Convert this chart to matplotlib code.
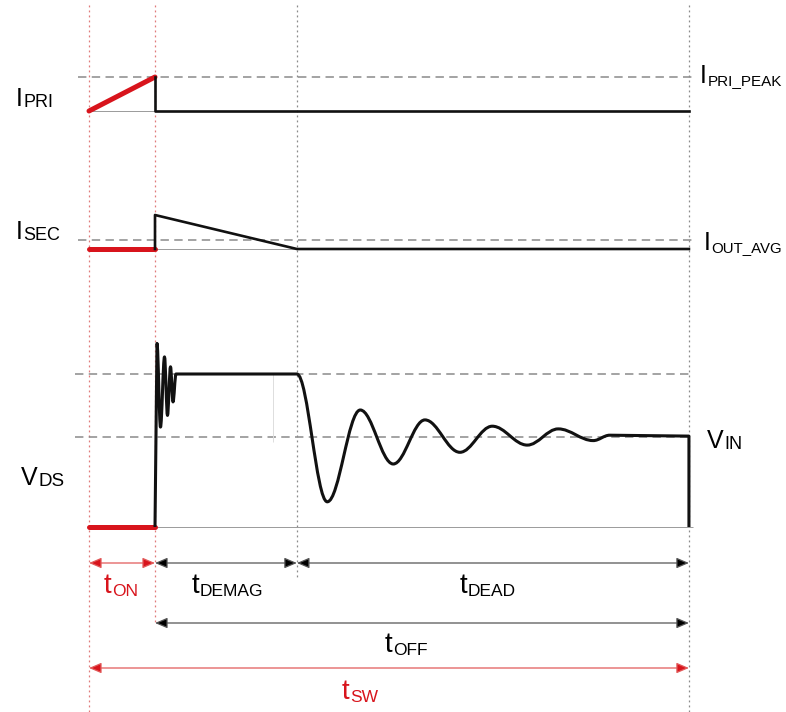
import matplotlib
matplotlib.use("Agg")
import matplotlib.pyplot as plt
from matplotlib.path import Path
from matplotlib.patches import PathPatch

plt.rcParams['font.family'] = ['Liberation Sans', 'DejaVu Sans']

# ---- timing (units of t_ON) ----
T_ON = 1.0
T_DEMAG = 3.15
T_SW = 9.09

# ---- primary current ----
ipri_on_t = [0.0, T_ON]
ipri_on_v = [0.0, 1.0]
ipri_off_t = [T_ON, T_ON, T_SW]
ipri_off_v = [1.0, 0.0, 0.0]
IPRI_PEAK = 1.0

# ---- secondary current ----
isec_on_t = [0.0, T_ON]
isec_on_v = [0.0, 0.0]
isec_off_t = [T_ON, T_ON, T_DEMAG, T_SW]
isec_off_v = [0.0, 1.0, 0.0, 0.0]
IOUT_AVG = 0.265

# ---- drain-source voltage (normalised to V_IN) ----
V_IN = 1.0
V_CLAMP = 1.70
vds_on_t = [0.0, T_ON]
vds_on_v = [0.0, 0.0]
# leakage ringing right after turn-off (extrema)
ring_t = [1.03, 1.083, 1.144, 1.189, 1.235, 1.273, 1.318]
ring_v = [2.04, 1.11, 1.89, 1.24, 1.78, 1.39, 1.70]
# resonance after demagnetisation (extrema)
decay_t = [3.15, 3.61, 4.11, 4.61, 5.09, 5.62, 6.11, 6.64, 7.11, 7.64, 7.89]
decay_v = [1.70, 0.28, 1.30, 0.70, 1.19, 0.83, 1.12, 0.91, 1.09, 0.96, 1.02]
V_END = 1.01

RED = '#d8141c'
GRID_RED = '#e07a7a'
GRAY = '#8a8a8a'
BLACK = '#111111'

W, H = 786, 712
X_LIM = (-89 / 66, (W - 89) / 66)

fig = plt.figure(figsize=(W / 100, H / 100), dpi=100)


def layer(baseline_px=None, px_per_unit=None):
    ax = fig.add_axes([0, 0, 1, 1])
    ax.set_xlim(X_LIM)
    if baseline_px is None:
        ax.set_ylim(H, 0)
    else:
        ax.set_ylim((baseline_px - H) / px_per_unit, baseline_px / px_per_unit)
    ax.set_facecolor('none')
    ax.axis('off')
    return ax


ax_ann = layer()
ax_pri = layer(111, 34)
ax_sec = layer(249, 34)
ax_vds = layer(527, 90)

DASH = dict(color=GRAY, lw=1.1, linestyles=(0, (5.5, 3.5)), zorder=1)
THIN = dict(color='#9a9a9a', lw=0.7, zorder=1)

# guide lines
ax_ann.vlines(0.0, 5, H, color=GRID_RED, lw=0.9, linestyles=(0, (1.5, 2.5)))
ax_ann.vlines(T_ON, 5, 625, color=GRID_RED, lw=0.9, linestyles=(0, (1.5, 2.5)))
ax_ann.vlines(T_DEMAG, 5, 580, color=GRAY, lw=0.9, linestyles=(0, (1.5, 2.5)))
ax_ann.vlines(T_SW, 5, H, color=GRAY, lw=0.9, linestyles=(0, (1.5, 2.5)))

# I_PRI
ax_pri.hlines(IPRI_PEAK, -0.17, 9.15, **DASH)
ax_pri.hlines(0, 0, T_ON, **THIN)
ax_pri.plot(ipri_on_t, ipri_on_v, color=RED, lw=3.6, solid_capstyle='round', zorder=3)
ax_pri.plot(ipri_off_t, ipri_off_v, color=BLACK, lw=1.9, zorder=3)

# I_SEC
ax_sec.hlines(IOUT_AVG, -0.17, 9.15, **DASH)
ax_sec.hlines(0, 0, T_DEMAG, **THIN)
ax_sec.plot(isec_on_t, isec_on_v, color=RED, lw=3.6, solid_capstyle='round', zorder=3)
ax_sec.plot(isec_off_t, isec_off_v, color=BLACK, lw=1.9, zorder=3)

# V_DS
ax_vds.hlines([V_CLAMP, V_IN], -0.21, 9.15, **DASH)
ax_vds.hlines(0, 0, 9.15, **THIN)
ax_vds.vlines(2.79, 0.94, V_CLAMP, color='#dddddd', lw=0.7, zorder=1)
ax_vds.plot(vds_on_t, vds_on_v, color=RED, lw=3.6, solid_capstyle='round', zorder=3)


def smooth(verts, codes, ts, vs, k=0.364):
    for i in range(1, len(ts)):
        x0, y0, x1, y1 = ts[i - 1], vs[i - 1], ts[i], vs[i]
        dx = x1 - x0
        verts += [(x0 + k * dx, y0), (x1 - k * dx, y1), (x1, y1)]
        codes += [Path.CURVE4] * 3


verts = [(T_ON, 0.0), (ring_t[0], ring_v[0])]
codes = [Path.MOVETO, Path.LINETO]
smooth(verts, codes, ring_t, ring_v)
verts.append((decay_t[0], decay_v[0]))
codes.append(Path.LINETO)
smooth(verts, codes, decay_t, decay_v)
verts += [(T_SW, V_END), (T_SW, 0.0)]
codes += [Path.LINETO, Path.LINETO]
ax_vds.add_patch(PathPatch(Path(verts, codes), fill=False, ec=BLACK, lw=2.2,
                           joinstyle='round', zorder=3))


# labels
def label(x, y, main, sub, size=18, sub_size=13, color='black', dy=0):
    m = ax_ann.text(x, y, main, fontsize=size, color=color, va='baseline', ha='left')
    ax_ann.annotate(sub, xy=(1, 0), xycoords=m, xytext=(0.3, dy),
                    textcoords='offset points', fontsize=sub_size, color=color,
                    va='bottom', ha='left')


def px(x):
    return (x - 89) / 66


label(px(16), 106, 'I', 'PRI')
label(px(16), 239, 'I', 'SEC')
label(px(21), 485, 'V', 'DS', sub_size=13.5)
label(px(700), 83, 'I', 'PRI_PEAK', sub_size=11)
label(px(704), 250, 'I', 'OUT_AVG', sub_size=10.8)
label(px(707), 448, 'V', 'IN')

label(px(104), 593, 't', 'ON', 20, 12.5, color=RED)
label(px(192), 593, 't', 'DEMAG', 20, 12.5)
label(px(460), 593, 't', 'DEAD', 20, 12.5)
label(px(385), 652, 't', 'OFF', 20, 12.5)
label(px(342), 699, 't', 'SW', 20, 12.5, color=RED)


def span(x0, x1, y, head, line):
    ax_ann.annotate('', xy=(x1, y), xytext=(x0, y),
                    arrowprops=dict(arrowstyle='<|-|>,head_length=0.75,head_width=0.32',
                                    fc=head, ec=line, lw=0.9,
                                    shrinkA=0, shrinkB=0))


span(0.0, T_ON, 563, RED, '#e25a5a')
span(T_ON, T_DEMAG, 563, 'black', '#555555')
span(T_DEMAG, T_SW, 563, 'black', '#555555')
span(T_ON, T_SW, 623, 'black', '#555555')
span(0.0, T_SW, 668, RED, '#e25a5a')

fig.savefig('out.png', dpi=100)
